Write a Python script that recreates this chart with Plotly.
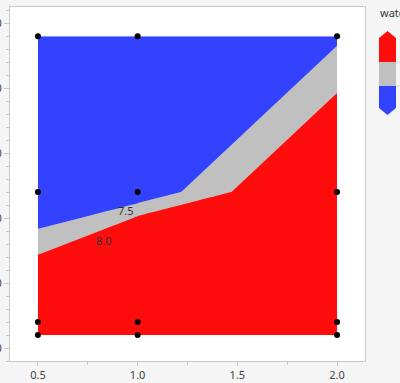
import plotly.graph_objects as go

# grid coordinates of the measured points
x_vals = [0.5, 1.0, 2.0]
y_vals = [2, 4, 24, 48]
# water values per row (rows follow y_vals)
z_y2 = [9.5, 12.3, 10.8]
z_y4 = [9.30, 12.1, 10.5]
z_y24 = [6.79, 7.07, 9.05]
z_y48 = [6.2, 6.6, 7.40]
levels = [7.5, 8.0]
level_labels = ["7.5", "8.0"]
label_x = [0.94, 0.83]
label_y = [21.2, 16.6]
legend_title = "water"

BLUE = "#3342ff"
GRAY = "#c0c0c0"
RED = "#ff0d0d"

W, H = 400, 383
ml, mr, mt, mb = 10, 35, 7, 22
pw, ph = W - ml - mr, H - mt - mb

def px_x(p):
    return (p - ml) / pw

def px_y(p):
    return (H - mb - p) / ph

z = [z_y2, z_y4, z_y24, z_y48]

fig = go.Figure()
fig.add_trace(go.Contour(
    x=x_vals, y=y_vals, z=z,
    zmin=7.0, zmax=8.5, zauto=False,
    contours=dict(start=levels[0], end=levels[1], size=levels[1] - levels[0],
                  coloring="fill", showlines=False),
    line=dict(width=0, smoothing=0),
    colorscale=[[0, BLUE], [1/3, BLUE], [1/3, GRAY], [2/3, GRAY], [2/3, RED], [1, RED]],
    showscale=False,
    hoverinfo="skip",
))

px_list, py_list = [], []
for yv in y_vals:
    for xv in x_vals:
        px_list.append(xv)
        py_list.append(yv)
fig.add_trace(go.Scatter(x=px_list, y=py_list, mode="markers",
                         marker=dict(color="black", size=6), showlegend=False,
                         hoverinfo="skip"))

for t, lx, ly in zip(level_labels, label_x, label_y):
    fig.add_annotation(x=lx, y=ly, text=t, showarrow=False,
                       font=dict(size=11, color="#333"))

# legend colour key (drawn manually so it does not push the margins)
x0, x1 = px_x(379), px_x(396)
xm = px_x(387.5)
bands = [(38, 62, RED), (62, 86, GRAY), (86, 108, BLUE)]
for top, bot, col in bands:
    fig.add_shape(type="rect", xref="paper", yref="paper", x0=x0, x1=x1,
                  y0=px_y(bot), y1=px_y(top), fillcolor=col, line=dict(width=0))
fig.add_shape(type="path", xref="paper", yref="paper",
              path=f"M {x0} {px_y(38)} L {xm} {px_y(31)} L {x1} {px_y(38)} Z",
              fillcolor=RED, line=dict(width=0))
fig.add_shape(type="path", xref="paper", yref="paper",
              path=f"M {x0} {px_y(108)} L {xm} {px_y(115)} L {x1} {px_y(108)} Z",
              fillcolor=BLUE, line=dict(width=0))
for ty in (62, 86):
    fig.add_shape(type="line", xref="paper", yref="paper", x0=x1, x1=px_x(400),
                  y0=px_y(ty), y1=px_y(ty), line=dict(color="#d8d8d8", width=1))
fig.add_annotation(xref="paper", yref="paper", x=px_x(378), y=px_y(12),
                   xanchor="left", yanchor="middle", text=legend_title, showarrow=False,
                   font=dict(size=11, color="#333"))

fig.update_layout(
    template="none",
    width=W, height=H,
    margin=dict(l=ml, r=mr, t=mt, b=mb),
    paper_bgcolor="#f5f5f5", plot_bgcolor="white",
    font=dict(family="Noto Sans", size=11, color="#444"),
    showlegend=False,
    xaxis=dict(range=[0.36, 2.14], tickvals=[0.5, 1.0, 1.5, 2.0], ticktext=["0.5", "1.0", "1.5", "2.0"],
               ticks="outside", ticklen=4, tickcolor="#c8c8c8",
               minor=dict(dtick=0.25, ticks="outside", ticklen=3, tickcolor="#c8c8c8"),
               showline=True, linecolor="#c8c8c8", mirror=True, showgrid=False, zeroline=False,
               automargin=False),
    yaxis=dict(range=[-2.0, 52.5], dtick=10, tick0=0,
               ticks="outside", ticklen=5, tickcolor="#c8c8c8",
               minor=dict(dtick=2, ticks="outside", ticklen=3, tickcolor="#c8c8c8"),
               showline=True, linecolor="#c8c8c8", mirror=True, showgrid=False, zeroline=False,
               automargin=False),
)

fig.write_html("out.html")
